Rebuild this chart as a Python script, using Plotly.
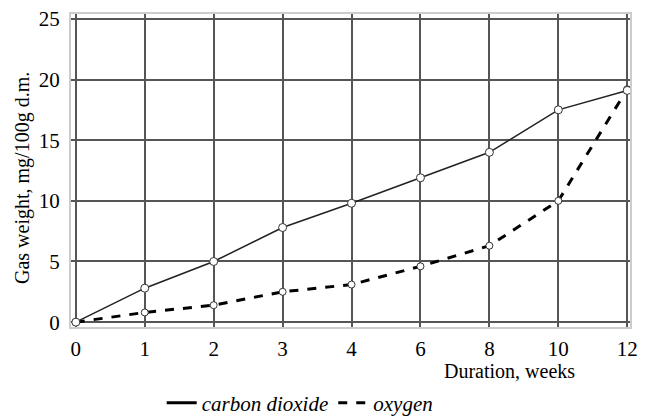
import plotly.graph_objects as go

weeks = ["0", "1", "2", "3", "4", "6", "8", "10", "12"]
carbon_dioxide = [0, 2.8, 5.0, 7.8, 9.8, 11.9, 14.0, 17.5, 19.1]
oxygen = [0, 0.8, 1.4, 2.5, 3.1, 4.6, 6.3, 10.0, 19.2]
y_ticks = [0, 5, 10, 15, 20, 25]

FONT = "Liberation Serif"
fig = go.Figure()

fig.add_trace(go.Scatter(x=weeks, y=oxygen, mode="lines+markers", showlegend=False,
                         line=dict(color="black", width=3, dash="dash"),
                         marker=dict(size=7, color="white", line=dict(color="#333", width=1))))
fig.add_trace(go.Scatter(x=weeks, y=carbon_dioxide, mode="lines+markers", showlegend=False,
                         line=dict(color="#222", width=1.5),
                         marker=dict(size=8, color="white", line=dict(color="#333", width=1))))
# legend-only entries
fig.add_trace(go.Scatter(x=[None], y=[None], mode="lines", name="carbon dioxide",
                         line=dict(color="black", width=3)))
fig.add_trace(go.Scatter(x=[None], y=[None], mode="lines", name="oxygen",
                         line=dict(color="black", width=3, dash="dash")))

# page body has an 8px margin, so the figure is drawn 8px right/down
fig.update_layout(
    width=640, height=410,
    margin=dict(l=63, r=18, t=6, b=91, autoexpand=False),
    plot_bgcolor="white", paper_bgcolor="white",
    font=dict(family=FONT, size=21, color="black"),
    legend=dict(orientation="h", x=0.41, xanchor="center", y=-0.243, yanchor="middle",
                font=dict(family=FONT, size=21, style="italic"),
                itemwidth=30, tracegroupgap=0),
    annotations=[
        dict(text="Duration, weeks", x=0.785, xref="paper", y=-0.1406, yref="paper",
             showarrow=False, xanchor="center", yanchor="middle",
             font=dict(family=FONT, size=20)),
        dict(text="Gas weight, mg/100g d.m.", x=-0.0877, xref="paper", y=0.476, yref="paper",
             showarrow=False, xanchor="center", yanchor="middle", textangle=-90,
             font=dict(family=FONT, size=20)),
    ],
)
fig.update_xaxes(type="category", range=[-0.07, 8.04], showgrid=True, gridcolor="#555", gridwidth=1.5,
                 showline=True, linecolor="#cccccc", linewidth=2, mirror=True, automargin=False,
                 ticks="", tickfont=dict(size=21), ticklabelstandoff=2, ticklabeloverflow="allow")
fig.update_yaxes(range=[-0.4, 25.4], tickvals=y_ticks, showgrid=True, gridcolor="#555", gridwidth=1.5,
                 zeroline=False, showline=True, linecolor="#cccccc", linewidth=2, mirror=True,
                 automargin=False, ticks="", tickfont=dict(size=21), ticklabelstandoff=5,
                 ticklabeloverflow="allow")

fig.write_html("out.html")
